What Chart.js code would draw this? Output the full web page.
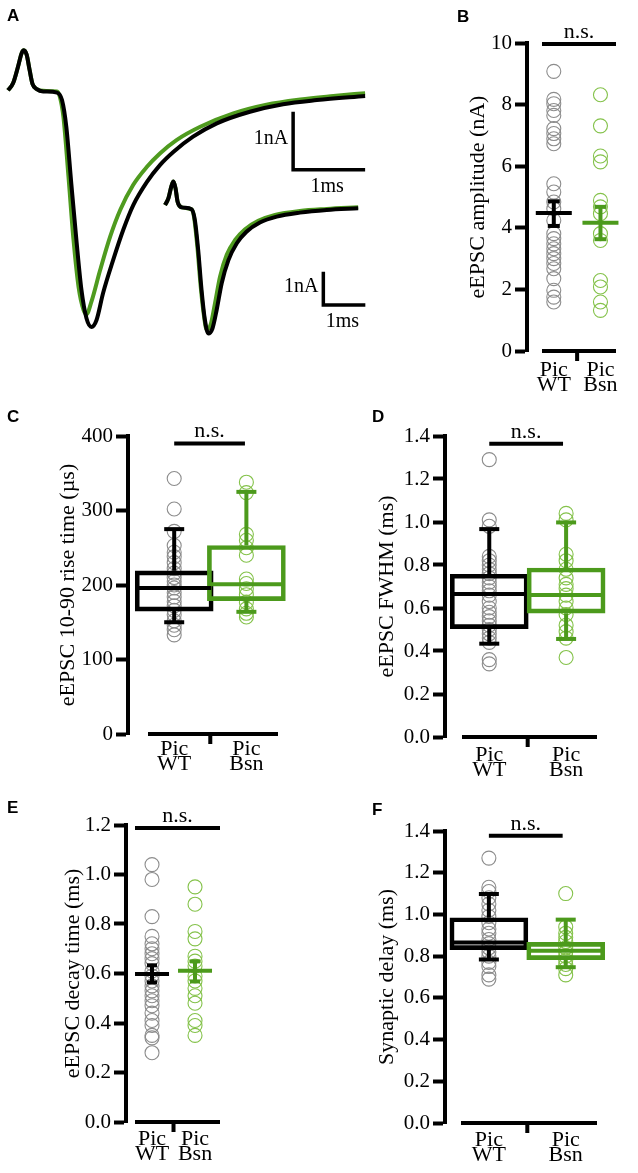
<!DOCTYPE html>
<html>
<head>
<meta charset="utf-8">
<script src="https://cdn.jsdelivr.net/npm/chart.js@4.4.1/dist/chart.umd.min.js"></script>
<style>
  html, body { margin: 0; padding: 0; background: #fff; }
  body { width: 638px; height: 1173px; position: relative; overflow: hidden; }
  canvas { position: absolute; }
</style>
</head>
<body>
<canvas id="panelA" width="440" height="370" style="left:0px;top:0px"></canvas>
<canvas id="panelB" width="198" height="400" style="left:440px;top:0px"></canvas>
<canvas id="panelC" width="319" height="395" style="left:0px;top:395px"></canvas>
<canvas id="panelD" width="319" height="395" style="left:319px;top:395px"></canvas>
<canvas id="panelE" width="319" height="383" style="left:0px;top:790px"></canvas>
<canvas id="panelF" width="319" height="383" style="left:319px;top:790px"></canvas>
<script>
const SERIF = '"Liberation Serif", "Times New Roman", serif';
const SANS = '"Liberation Sans", Arial, sans-serif';
const BLACK = "#000000";
const GREEN = "#4c9a1c";
const GREEN_TRACE = "#4f9b1f";
const GREEN_PT = "#84c24a";
const GRAY_PT = "#8c8c8c";

// -------------------- DATA --------------------
const groups = ["WT", "Bsn"];
const groupX = [1, 2];

// A: averaged eEPSC traces (ms, nA), black = WT, green = Bsn
const bigWtT = [0.00,0.07,0.14,0.19,0.22,0.26,0.30,0.34,0.40,0.49,0.68,0.75,0.81,0.88,0.95,1.02,1.09,1.16,1.23,1.32,1.46,1.60,1.74,1.93,2.11,2.30,2.57,2.90,3.36,3.82,4.29,4.96];
const bigWtI = [0.03,0.15,0.44,0.67,0.72,0.64,0.38,0.14,0.05,0.01,-0.01,-0.14,-0.60,-1.59,-2.55,-3.41,-3.90,-4.05,-3.93,-3.47,-2.90,-2.38,-1.95,-1.55,-1.26,-1.03,-0.77,-0.54,-0.34,-0.21,-0.14,-0.07];
const bigBsnT = [0.00,0.07,0.14,0.19,0.22,0.26,0.30,0.34,0.40,0.49,0.68,0.72,0.77,0.84,0.91,0.98,1.05,1.09,1.16,1.28,1.42,1.56,1.74,1.93,2.11,2.34,2.67,3.13,3.59,4.06,4.52,4.96];
const bigBsnI = [0.03,0.15,0.44,0.67,0.72,0.64,0.38,0.14,0.05,0.02,0.01,-0.08,-0.43,-1.46,-2.55,-3.36,-3.76,-3.83,-3.61,-3.07,-2.49,-2.03,-1.60,-1.29,-1.06,-0.83,-0.60,-0.37,-0.22,-0.13,-0.07,-0.02];
const insetWtT = [0.00,0.08,0.15,0.20,0.25,0.30,0.40,0.63,0.71,0.79,0.87,0.95,1.03,1.13,1.23,1.35,1.51,1.71,1.94,2.26,2.66,3.21,3.85,4.60];
const insetWtI = [0.10,0.30,0.66,0.81,0.61,0.20,0.03,-0.03,-0.35,-1.26,-2.47,-3.38,-3.79,-3.64,-3.08,-2.27,-1.57,-1.06,-0.71,-0.43,-0.25,-0.13,-0.05,0.00];
const insetBsnT = [0.00,0.08,0.15,0.20,0.25,0.30,0.40,0.63,0.69,0.77,0.85,0.93,0.99,1.09,1.19,1.31,1.47,1.67,1.90,2.22,2.62,3.21,3.85,4.60];
const insetBsnI = [0.10,0.30,0.66,0.81,0.61,0.20,0.03,-0.03,-0.25,-1.16,-2.37,-3.28,-3.67,-3.51,-2.88,-2.07,-1.41,-0.96,-0.64,-0.38,-0.20,-0.08,-0.02,0.03];
const bigBarT = [3.96, 4.96];
const bigBarI = [-0.34, -1.34];
const insetBarT = [3.77, 4.77];
const insetBarI = [-1.92, -2.93];

// B: eEPSC amplitude (nA), mean +/- SEM
const ampTicks = [0, 2, 4, 6, 8, 10];
const ampWT = [9.08, 8.17, 8.03, 7.81, 7.65, 7.22, 7.06, 6.89, 6.73, 5.43, 5.16, 4.84, 4.62, 4.24, 3.81, 3.65, 3.48, 3.32, 3.16, 3.00, 2.84, 2.67, 2.35, 1.97, 1.75, 1.59];
const ampBsn = [8.32, 7.31, 6.33, 6.14, 4.89, 4.68, 4.46, 3.81, 3.59, 2.29, 2.08, 1.59, 1.32];
const ampMean = [4.48, 4.16];
const ampSemLow = [4.06, 3.63];
const ampSemHigh = [4.86, 4.68];

// C: 10-90 rise time (us), box plots
const riseTicks = [0, 100, 200, 300, 400];
const riseWT = [343, 302, 272, 253, 244, 238, 230, 222, 216, 210, 205, 200, 196, 190, 184, 178, 172, 166, 160, 152, 146, 140, 133];
const riseBsn = [338, 324, 268, 260, 250, 240, 208, 202, 195, 187, 177, 168, 162, 157];
const riseLo = [150, 164];
const riseQ1 = [165, 179];
const riseMed = [196, 201];
const riseQ3 = [219, 253];
const riseHi = [275, 325];

// D: FWHM (ms), box plots
const fwhmTicks = [0, 0.2, 0.4, 0.6, 0.8, 1.0, 1.2, 1.4];
const fwhmWT = [1.29, 1.01, 0.98, 0.84, 0.82, 0.80, 0.78, 0.76, 0.74, 0.72, 0.70, 0.68, 0.66, 0.63, 0.60, 0.58, 0.56, 0.54, 0.52, 0.50, 0.48, 0.46, 0.44, 0.36, 0.34];
const fwhmBsn = [1.04, 1.01, 0.85, 0.82, 0.78, 0.74, 0.71, 0.69, 0.66, 0.63, 0.60, 0.57, 0.52, 0.49, 0.46, 0.37];
const fwhmLo = [0.434, 0.456];
const fwhmQ1 = [0.504, 0.576];
const fwhmMed = [0.665, 0.660];
const fwhmQ3 = [0.757, 0.786];
const fwhmHi = [0.967, 0.998];

// E: decay time (ms), mean +/- SEM
const decayTicks = [0, 0.2, 0.4, 0.6, 0.8, 1.0, 1.2];
const decayWT = [1.04, 0.98, 0.83, 0.75, 0.72, 0.70, 0.68, 0.66, 0.64, 0.61, 0.59, 0.57, 0.55, 0.53, 0.51, 0.49, 0.47, 0.44, 0.41, 0.39, 0.35, 0.34, 0.28];
const decayBsn = [0.95, 0.88, 0.77, 0.74, 0.67, 0.65, 0.63, 0.59, 0.57, 0.54, 0.51, 0.48, 0.41, 0.39, 0.35];
const decayMean = [0.598, 0.611];
const decaySemLow = [0.564, 0.568];
const decaySemHigh = [0.633, 0.649];

// F: synaptic delay (ms), box plots
const delayTicks = [0, 0.2, 0.4, 0.6, 0.8, 1.0, 1.2, 1.4];
const delayWT = [1.27, 1.13, 1.11, 1.08, 1.05, 1.02, 0.99, 0.96, 0.93, 0.91, 0.88, 0.86, 0.84, 0.82, 0.80, 0.77, 0.75, 0.71, 0.69];
const delayBsn = [1.10, 0.94, 0.91, 0.89, 0.87, 0.84, 0.82, 0.80, 0.78, 0.76, 0.74, 0.71];
const delayLo = [0.784, 0.747];
const delayQ1 = [0.831, 0.783];
const delayMed = [0.866, 0.826];
const delayQ3 = [0.984, 0.866];
const delayHi = [1.098, 0.975];

// -------------------- PLUGINS --------------------
// axis baseline with gap, middle tick, n.s. bar, panel letter
const decor = {
  id: "decor",
  afterDraw(chart, args, o) {
    const { ctx, chartArea: a, scales: { x, y } } = chart;
    const y0 = y.getPixelForValue(0);
    const xStart = a.left + o.gap;
    ctx.save();
    ctx.strokeStyle = BLACK;
    ctx.lineWidth = 4;
    ctx.beginPath();
    ctx.moveTo(xStart, y0);
    ctx.lineTo(a.right, y0);
    const xm = x.getPixelForValue(1.5);
    ctx.moveTo(xm, y0);
    ctx.lineTo(xm, y0 + 10);
    ctx.stroke();

    const yn = y.getPixelForValue(o.nsLevel);
    const n1 = o.nsSpan ? x.getPixelForValue(o.nsSpan[0]) : xStart;
    const n2 = o.nsSpan ? x.getPixelForValue(o.nsSpan[1]) : a.right;
    ctx.beginPath();
    ctx.moveTo(n1, yn);
    ctx.lineTo(n2, yn);
    ctx.stroke();

    ctx.fillStyle = BLACK;
    ctx.font = "22px " + SERIF;
    ctx.textAlign = "center";
    ctx.textBaseline = "alphabetic";
    ctx.fillText("n.s.", (n1 + n2) / 2, yn - 6);

    ctx.font = "bold 17px " + SANS;
    ctx.textAlign = "left";
    ctx.fillText(o.letter, o.lx, o.ly);
    ctx.restore();
  }
};

// scale bar labels + letter for the trace panel
const barLabels = {
  id: "barLabels",
  afterDraw(chart, args, o) {
    const ctx = chart.ctx;
    ctx.save();
    ctx.fillStyle = BLACK;
    ctx.font = "bold 17px " + SANS;
    ctx.textAlign = "left";
    ctx.textBaseline = "alphabetic";
    ctx.fillText("A", 7, 21);
    ctx.font = "20px " + SERIF;
    o.bars.forEach((b) => {
      const xs = chart.scales[b.xAxis], ys = chart.scales[b.yAxis];
      const x0 = xs.getPixelForValue(b.t[0]), x1 = xs.getPixelForValue(b.t[1]);
      const y0 = ys.getPixelForValue(b.i[0]), y1 = ys.getPixelForValue(b.i[1]);
      ctx.textAlign = "right";
      ctx.textBaseline = "middle";
      ctx.fillText("1nA", x0 - 5, (y0 + y1) / 2 - 2);
      ctx.textAlign = "center";
      ctx.textBaseline = "alphabetic";
      ctx.fillText("1ms", (x0 + x1) / 2 - 2, y1 + 22);
    });
    ctx.restore();
  }
};

// -------------------- PANEL A --------------------
function traceSet(ts, is, color, xAxisID, yAxisID, order) {
  return {
    type: "line",
    data: ts.map((t, k) => ({ x: t, y: is[k] })),
    borderColor: color,
    borderWidth: 4,
    pointRadius: 0,
    tension: 0.4,
    cubicInterpolationMode: "monotone",
    xAxisID, yAxisID, order, clip: false
  };
}

function barSet(t, i, xAxisID, yAxisID) {
  return {
    type: "line",
    data: [{ x: t[0], y: i[0] }, { x: t[0], y: i[1] }, { x: t[1], y: i[1] }],
    borderColor: BLACK,
    borderWidth: 3.5,
    borderJoinStyle: "miter",
    pointRadius: 0,
    xAxisID, yAxisID, order: 0, clip: false
  };
}

new Chart(document.getElementById("panelA"), {
  type: "scatter",
  data: {
    datasets: [
      traceSet(bigBsnT, bigBsnI, GREEN_TRACE, "x", "y", 2),
      traceSet(bigWtT, bigWtI, BLACK, "x", "y", 1),
      traceSet(insetBsnT, insetBsnI, GREEN_TRACE, "xi", "yi", 2),
      traceSet(insetWtT, insetWtI, BLACK, "xi", "yi", 1),
      barSet(bigBarT, bigBarI, "x", "y"),
      barSet(insetBarT, insetBarI, "xi", "yi")
    ]
  },
  options: {
    responsive: false,
    animation: false,
    events: [],
    devicePixelRatio: 1,
    layout: { padding: 0 },
    plugins: {
      legend: { display: false },
      tooltip: { enabled: false },
      barLabels: {
        bars: [
          { xAxis: "x", yAxis: "y", t: bigBarT, i: bigBarI },
          { xAxis: "xi", yAxis: "yi", t: insetBarT, i: insetBarI }
        ]
      }
    },
    scales: {
      x: { type: "linear", display: false, min: -0.111, max: 6.0 },
      y: { type: "linear", display: false, min: -4.793, max: 1.586 },
      xi: { type: "linear", axis: "x", display: false, min: -3.929, max: 6.548 },
      yi: { type: "linear", axis: "y", display: false, min: -4.899, max: 6.313 }
    }
  },
  plugins: [barLabels]
});

// -------------------- PANELS B-F --------------------
function statChart(id, p) {
  const colors = [BLACK, GREEN];
  const ptColors = [GRAY_PT, GREEN_PT];
  const datasets = [];

  groupX.forEach((gx, g) => {
    datasets.push({
      type: "scatter",
      data: p.points[g].map((v) => ({ x: gx, y: v })),
      pointStyle: "circle",
      pointRadius: 7,
      pointBorderWidth: 1.1,
      pointBorderColor: ptColors[g],
      pointBackgroundColor: "rgba(0,0,0,0)",
      order: 4, clip: false
    });
  });

  if (p.q1) {
    datasets.push({
      type: "bar",
      data: groupX.map((gx, g) => ({ x: gx, y: [p.q1[g], p.q3[g]] })),
      barThickness: 78,
      borderWidth: 4,
      borderSkipped: false,
      borderColor: colors,
      backgroundColor: "rgba(0,0,0,0)",
      order: 3, clip: false
    });
    groupX.forEach((gx, g) => {
      datasets.push({
        type: "line",
        data: [{ x: gx, y: p.hi[g] }, { x: gx, y: p.q3[g] }, { x: gx, y: null }, { x: gx, y: p.q1[g] }, { x: gx, y: p.lo[g] }],
        borderColor: colors[g], borderWidth: 4, pointRadius: 0, spanGaps: false,
        order: 2, clip: false
      });
      datasets.push({
        type: "scatter",
        data: [{ x: gx, y: p.hi[g] }, { x: gx, y: p.lo[g] }],
        pointStyle: "line", pointRadius: 10, pointBorderWidth: 4, pointBorderColor: colors[g],
        order: 1, clip: false
      });
      datasets.push({
        type: "scatter",
        data: [{ x: gx, y: p.med[g] }],
        pointStyle: "line", pointRadius: 37, pointBorderWidth: 4, pointBorderColor: colors[g],
        order: 1, clip: false
      });
    });
  } else {
    groupX.forEach((gx, g) => {
      datasets.push({
        type: "line",
        data: [{ x: gx, y: p.semLow[g] }, { x: gx, y: p.semHigh[g] }],
        borderColor: colors[g], borderWidth: 4, pointRadius: 0,
        order: 2, clip: false
      });
      datasets.push({
        type: "scatter",
        data: [{ x: gx, y: p.semLow[g] }, { x: gx, y: p.semHigh[g] }],
        pointStyle: "line", pointRadius: p.cap, pointBorderWidth: 4, pointBorderColor: colors[g],
        order: 1, clip: false
      });
      datasets.push({
        type: "scatter",
        data: [{ x: gx, y: p.mean[g] }],
        pointStyle: "line", pointRadius: p.half, pointBorderWidth: 4, pointBorderColor: colors[g],
        order: 1, clip: false
      });
    });
  }

  return new Chart(document.getElementById(id), {
    type: "scatter",
    data: { datasets },
    options: {
      responsive: false,
      animation: false,
      events: [],
      devicePixelRatio: 1,
      layout: { padding: { top: p.padTop, right: p.padRight, left: 0, bottom: 0 } },
      plugins: {
        legend: { display: false },
        tooltip: { enabled: false },
        decor: { gap: p.gap, nsLevel: p.nsLevel, nsSpan: p.nsSpan, letter: p.letter, lx: p.lx, ly: p.ly }
      },
      scales: {
        x: {
          type: "linear",
          offset: false,
          min: p.xMin, max: p.xMax,
          afterBuildTicks: (s) => { s.ticks = groupX.map((v) => ({ value: v })); },
          afterFit: (s) => { s.height = p.xH; },
          ticks: {
            callback: (v) => ["Pic", groups[v - 1]],
            font: { family: SERIF, size: 22, lineHeight: 0.68 },
            color: BLACK,
            padding: p.xPad,
            autoSkip: false,
            maxRotation: 0
          },
          grid: { display: false, drawTicks: false, offset: false },
          border: { display: false }
        },
        y: {
          type: "linear",
          min: p.ticks[0], max: p.ticks[p.ticks.length - 1],
          afterBuildTicks: (s) => { s.ticks = p.ticks.map((v) => ({ value: v })); },
          afterFit: (s) => { s.width = p.yW; },
          ticks: {
            callback: (v) => v.toFixed(p.dec),
            font: { family: SERIF, size: 21 },
            color: BLACK,
            padding: 3
          },
          grid: {
            display: true, drawOnChartArea: false, drawTicks: true,
            tickLength: 12, tickWidth: 4, tickColor: BLACK, color: BLACK
          },
          border: { display: true, width: 4, color: BLACK },
          title: {
            display: true, text: p.title, color: BLACK,
            font: { family: SERIF, size: 22, lineHeight: 1 },
            padding: { top: p.titlePad, bottom: 0 }
          }
        }
      }
    },
    plugins: [decor]
  });
}

statChart("panelB", {
  points: [ampWT, ampBsn], mean: ampMean, semLow: ampSemLow, semHigh: ampSemHigh, half: 18, cap: 6,
  ticks: ampTicks, dec: 0, title: "eEPSC amplitude (nA)",
  yW: 87, padTop: 43, padRight: 8, xH: 49, xPad: 12, titlePad: 27,
  xMin: 0.426, xMax: 2.333, gap: 15, nsLevel: 9.97, nsSpan: null,
  letter: "B", lx: 17, ly: 22
});

statChart("panelC", {
  points: [riseWT, riseBsn], lo: riseLo, q1: riseQ1, med: riseMed, q3: riseQ3, hi: riseHi,
  ticks: riseTicks, dec: 0, title: "eEPSC 10-90 rise time (µs)",
  yW: 128, padTop: 38, padRight: 6, xH: 56, xPad: 8, titlePad: 57,
  xMin: 0.36, xMax: 2.438, gap: 20, nsLevel: 390, nsSpan: [1, 1.98],
  letter: "C", lx: 7, ly: 27
});

statChart("panelD", {
  points: [fwhmWT, fwhmBsn], lo: fwhmLo, q1: fwhmQ1, med: fwhmMed, q3: fwhmQ3, hi: fwhmHi,
  ticks: fwhmTicks, dec: 1, title: "eEPSC FWHM (ms)",
  yW: 126, padTop: 38, padRight: 11, xH: 53, xPad: 11, titlePad: 57,
  xMin: 0.424, xMax: 2.402, gap: 17, nsLevel: 1.364, nsSpan: [1, 1.96],
  letter: "D", lx: 53, ly: 27
});

statChart("panelE", {
  points: [decayWT, decayBsn], mean: decayMean, semLow: decaySemLow, semHigh: decaySemHigh, half: 17, cap: 5,
  ticks: decayTicks, dec: 1, title: "eEPSC decay time (ms)",
  yW: 126, padTop: 35, padRight: 99, xH: 51, xPad: 10, titlePad: 62,
  xMin: 0.395, xMax: 2.581, gap: 9, nsLevel: 1.188, nsSpan: null,
  letter: "E", lx: 7, ly: 23
});

statChart("panelF", {
  points: [delayWT, delayBsn], lo: delayLo, q1: delayQ1, med: delayMed, q3: delayQ3, hi: delayHi,
  ticks: delayTicks, dec: 1, title: "Synaptic delay (ms)",
  yW: 126, padTop: 32, padRight: 13, xH: 50, xPad: 10, titlePad: 57,
  xMin: 0.429, xMax: 2.407, gap: 16, nsLevel: 1.377, nsSpan: [1, 1.96],
  letter: "F", lx: 53, ly: 25
});
</script>
</body>
</html>
